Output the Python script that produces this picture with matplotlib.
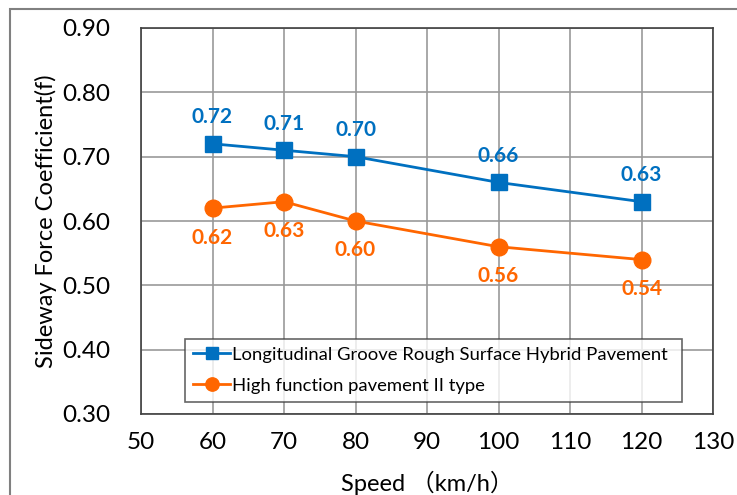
import matplotlib

matplotlib.use("Agg")
import matplotlib.pyplot as plt
from matplotlib.patches import Rectangle

speed = [60, 70, 80, 100, 120]
groove = [0.72, 0.71, 0.70, 0.66, 0.63]
high_func = [0.62, 0.63, 0.60, 0.56, 0.54]
x_ticks = [50, 60, 70, 80, 90, 100, 110, 120, 130]
y_ticks = [0.30, 0.40, 0.50, 0.60, 0.70, 0.80, 0.90]
BLUE = "#0070C0"
ORANGE = "#FF6600"

plt.rcParams["font.family"] = ["Lato", "Noto Sans CJK SC", "DejaVu Sans"]

fig = plt.figure(figsize=(7.37, 4.95), dpi=100)
ax = fig.add_axes([141 / 737, 1 - 414 / 495, 572 / 737, 386 / 495])

# outer chart-area border (cropped at right/bottom)
fig.patches.append(Rectangle((10 / 737, -0.05), 1.1, 1 - 9 / 495 + 0.05,
                             transform=fig.transFigure, fill=False,
                             edgecolor="#808080", lw=1.5))

ax.plot(speed, groove, "s-", color=BLUE, lw=2, ms=11, zorder=3,
        label="Longitudinal Groove Rough Surface Hybrid Pavement")
ax.plot(speed, high_func, "o-", color=ORANGE, lw=2, ms=12, zorder=3,
        label="High function pavement II type")

for x, v in zip(speed, groove):
    ax.annotate(f"{v:.2f}", (x, v), xytext=(0, 12), textcoords="offset points",
                ha="center", va="bottom", color=BLUE, fontsize=15,
                fontweight="bold")
for x, v in zip(speed, high_func):
    ax.annotate(f"{v:.2f}", (x, v), xytext=(0, -14), textcoords="offset points",
                ha="center", va="top", color=ORANGE, fontsize=15,
                fontweight="bold")

ax.set_xlim(50, 130)
ax.set_ylim(0.30, 0.90)
ax.set_xticks(x_ticks)
ax.set_yticks(y_ticks)
ax.set_yticklabels([f"{t:.2f}" for t in y_ticks])
ax.tick_params(length=0, labelsize=17.5, colors="black")
ax.tick_params(axis="x", pad=13)
ax.tick_params(axis="y", pad=22)
ax.grid(True, color="#999999", lw=1.2)
ax.set_axisbelow(True)
for s in ax.spines.values():
    s.set_color("#404040")
    s.set_linewidth(1.2)

ax.set_xlabel("Speed （km/h）", fontsize=17)
ax.set_ylabel("Sideway Force Coefficient(f)", fontsize=17)
ax.xaxis.set_label_coords(0.5, -0.148)
ax.yaxis.set_label_coords(-0.147, 0.5)

leg = ax.legend(loc="lower left", bbox_to_anchor=(44 / 572, 12 / 386,
                                                   497 / 572, 68 / 386),
                mode="expand", fontsize=13.3, frameon=True, fancybox=False,
                borderaxespad=0, handlelength=2.0, handletextpad=0.1,
                labelspacing=0.8, markerscale=0.8, borderpad=0.45)
leg.get_frame().set_edgecolor("#404040")
leg.get_frame().set_linewidth(1.2)

fig.savefig("out.png", dpi=100)
